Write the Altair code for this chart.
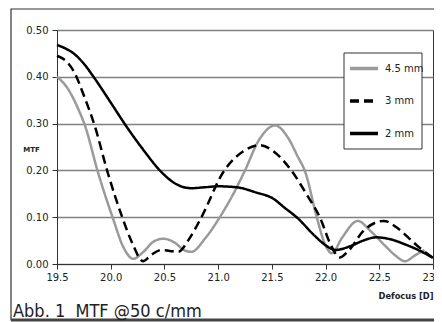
import altair as alt
import pandas as pd

# ---- data ----
series_names = ["4.5 mm", "3 mm", "2 mm"]

x_45 = [19.50, 19.60, 19.70, 19.76, 19.88, 20.02, 20.12, 20.21, 20.30, 20.40, 20.49, 20.60, 20.68, 20.75,
        20.88, 21.01, 21.13, 21.25, 21.38, 21.53, 21.65, 21.74, 21.81, 21.92, 21.99, 22.06, 22.15, 22.30,
        22.42, 22.55, 22.65, 22.74, 22.83, 22.92]
y_45 = [0.400, 0.375, 0.330, 0.296, 0.197, 0.098, 0.035, 0.011, 0.025, 0.048, 0.054, 0.045, 0.030, 0.026,
        0.055, 0.098, 0.145, 0.200, 0.265, 0.296, 0.270, 0.230, 0.197, 0.098, 0.045, 0.023, 0.055, 0.092,
        0.070, 0.040, 0.018, 0.006, 0.018, 0.030]

x_3 = [19.50, 19.60, 19.66, 19.75, 19.85, 19.97, 20.11, 20.20, 20.30, 20.38, 20.47, 20.55, 20.63, 20.72,
       20.84, 21.05, 21.25, 21.39, 21.52, 21.69, 21.82, 21.95, 22.05, 22.13, 22.22, 22.35, 22.54, 22.68,
       22.80, 22.88, 23.00]
y_3 = [0.445, 0.430, 0.410, 0.360, 0.296, 0.197, 0.098, 0.045, 0.006, 0.020, 0.030, 0.028, 0.026, 0.050,
       0.098, 0.197, 0.243, 0.254, 0.240, 0.197, 0.150, 0.098, 0.040, 0.014, 0.030, 0.070, 0.092, 0.075,
       0.050, 0.034, 0.013]

x_2 = [19.50, 19.60, 19.66, 19.75, 19.84, 20.00, 20.14, 20.30, 20.47, 20.60, 20.75, 20.88, 21.00, 21.12,
       21.20, 21.35, 21.51, 21.62, 21.74, 21.90, 22.00, 22.09, 22.23, 22.35, 22.47, 22.60, 22.75, 22.88, 23.00]
y_2 = [0.468, 0.458, 0.449, 0.428, 0.400, 0.345, 0.296, 0.245, 0.197, 0.172, 0.162, 0.164, 0.166, 0.165,
       0.163, 0.153, 0.140, 0.120, 0.098, 0.060, 0.040, 0.030, 0.038, 0.050, 0.057, 0.053, 0.041, 0.028, 0.013]

x_ticks = [19.5, 20.0, 20.5, 21.0, 21.5, 22.0, 22.5, 23.0]
y_ticks = [0.0, 0.1, 0.2, 0.3, 0.4, 0.5]

caption = "Abb. 1\u00a0\u00a0MTF @50 c/mm"

rows = []
for name, xs, ys in zip(series_names, [x_45, x_3, x_2], [y_45, y_3, y_2]):
    for xv, yv in zip(xs, ys):
        rows.append({"x": xv, "y": yv, "series": name})
df = pd.DataFrame(rows)
one = pd.DataFrame({"d": [0]})

W, H = 376, 234

legend_cfg = alt.Legend(
    title=None, orient="none", legendX=291, legendY=22.5, padding=0,
    symbolType="stroke", symbolSize=784, symbolStrokeWidth=3.5, rowPadding=9.5,
    labelFont="DejaVu Sans", labelFontSize=10, labelColor="#222", labelOffset=5,
)

lines = alt.Chart(df).mark_line(interpolate="monotone", strokeWidth=2.5).encode(
    x=alt.X("x:Q", scale=alt.Scale(domain=[19.5, 23.0], nice=False, zero=False),
            axis=alt.Axis(values=x_ticks, format=".1f", title="Defocus [D]", grid=False,
                          tickSize=5, labelPadding=3, labelFlush=False,
                          domainColor="#333", tickColor="#333",
                          labelFont="DejaVu Sans", labelFontSize=10, labelColor="#222",
                          titleFont="DejaVu Sans", titleFontWeight="bold", titleFontSize=8.3,
                          titleColor="#222", titleAnchor="end", titleAlign="right",
                          titleBaseline="middle", titleX=W, titleY=32)),
    y=alt.Y("y:Q", scale=alt.Scale(domain=[0, 0.5], nice=False),
            axis=alt.Axis(values=y_ticks, format=".2f", title="MTF", grid=True,
                          gridColor="#808080", gridWidth=1.5,
                          tickSize=5, labelPadding=4,
                          domainColor="#333", tickColor="#333",
                          labelFont="DejaVu Sans", labelFontSize=10, labelColor="#222",
                          titleFont="DejaVu Sans", titleFontWeight="bold", titleFontSize=7,
                          titleColor="#222", titleAngle=0, titleAlign="center",
                          titleBaseline="middle", titleX=-26, titleY=119)),
    color=alt.Color("series:N", scale=alt.Scale(domain=series_names, range=["#9a9a9a", "#000000", "#000000"]),
                    legend=legend_cfg),
    strokeDash=alt.StrokeDash("series:N", scale=alt.Scale(domain=series_names, range=[[1, 0], [9, 5], [1, 0]]),
                              legend=legend_cfg),
)

border = alt.Chart(one).mark_rect(fillOpacity=0, stroke="#333", strokeWidth=1.2).encode(
    x=alt.value(-46), x2=alt.value(420), y=alt.value(-21), y2=alt.value(290))
bottom_bar = alt.Chart(one).mark_rule(stroke="#444", strokeWidth=3).encode(
    x=alt.value(-46), x2=alt.value(420), y=alt.value(290))
legend_box = alt.Chart(one).mark_rect(fill="white", stroke="#333", strokeWidth=1).encode(
    x=alt.value(287), x2=alt.value(365), y=alt.value(23), y2=alt.value(119))
cap = alt.Chart(one).mark_text(text=caption, align="left", baseline="middle",
                               font="DejaVu Sans Condensed", fontSize=18, color="#222").encode(
    x=alt.value(-44), y=alt.value(281.5))

chart = alt.layer(border, bottom_bar, legend_box, lines, cap).properties(
    width=W, height=H, autosize="none",
    padding={"left": 49, "top": 22, "right": 1, "bottom": 58},
).configure_view(stroke="#333", strokeWidth=1)

chart.save("out.html", embed_options={"renderer": "svg", "actions": False})
